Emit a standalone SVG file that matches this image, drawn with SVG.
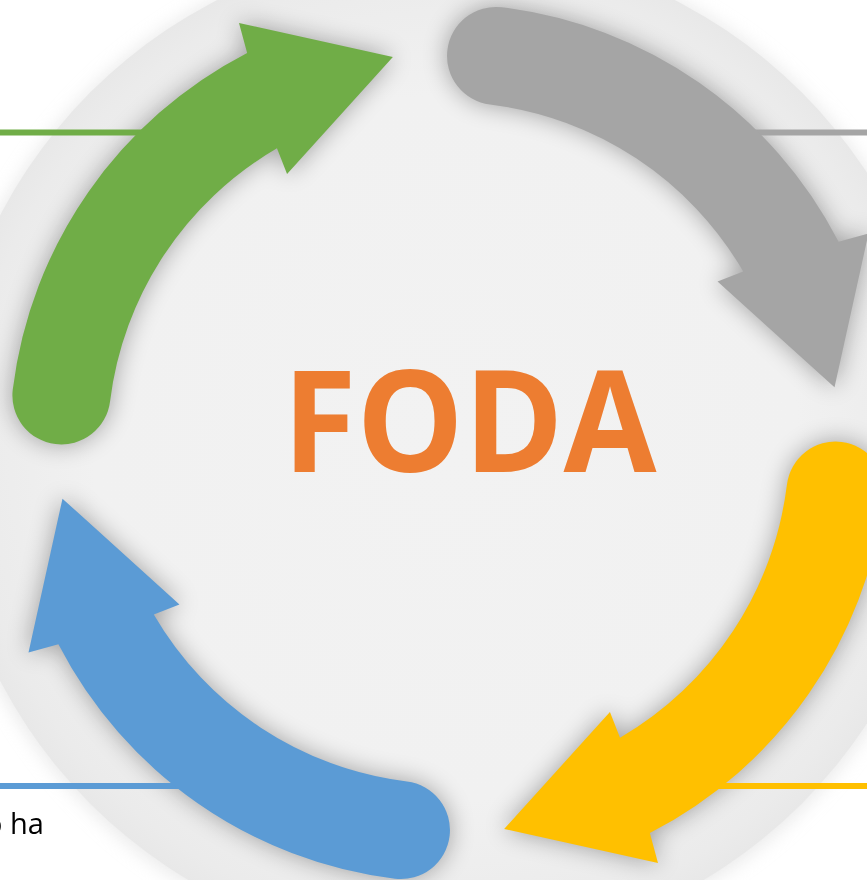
<svg xmlns="http://www.w3.org/2000/svg" xmlns:xlink="http://www.w3.org/1999/xlink" width="867" height="880" viewBox="0 0 867 880">
  <style>
    .line { stroke-width: 6; fill: none; }
    .title { font-family: "Open Sans", "Liberation Sans", sans-serif; font-weight: bold; fill: #ED7D31; }
    .label { font-family: "Open Sans", "Liberation Sans", sans-serif; fill: #000000; }
  </style>
  <defs>
    <radialGradient id="bgGrad" cx="446" cy="448" r="503" gradientUnits="userSpaceOnUse">
      <stop offset="0" stop-color="#f2f2f2"/>
      <stop offset="0.7" stop-color="#f1f1f1"/>
      <stop offset="0.95" stop-color="#ebebeb"/>
      <stop offset="1" stop-color="#e8e8e8"/>
    </radialGradient>
    <filter id="circleShadow" x="-20%" y="-20%" width="140%" height="140%">
      <feGaussianBlur stdDeviation="9"/>
    </filter>
    <filter id="arrowShadow" x="-30%" y="-30%" width="160%" height="160%">
      <feGaussianBlur stdDeviation="12"/>
    </filter>
    <path id="arrowShape" d="M 276.97 148.28 A 341 341 0 0 0 110.04 401.44 A 49 49 0 0 1 12.77 389.50 A 439 439 0 0 1 247.15 52.90 L 239.0 23.0 L 392.87 56.99 L 287.06 173.95 Z"/>
  </defs>

  <rect x="0" y="0" width="867" height="880" fill="#ffffff"/>

  <g id="background">
    <circle cx="446" cy="450" r="506" fill="#d6d6d6" opacity="0.5" filter="url(#circleShadow)"/>
    <circle cx="446" cy="448" r="503" fill="url(#bgGrad)"/>
  </g>

  <g id="shadows" filter="url(#arrowShadow)" fill="#000000" opacity="0.34">
    <use xlink:href="#arrowShape"/>
    <use xlink:href="#arrowShape" transform="rotate(90 448.5 443)"/>
    <use xlink:href="#arrowShape" transform="rotate(180 448.5 443)"/>
    <use xlink:href="#arrowShape" transform="rotate(270 448.5 443)"/>
  </g>

  <g id="lines">
    <line class="line" x1="0" y1="132.5" x2="170" y2="132.5" stroke="#70AD47"/>
    <line class="line" x1="730" y1="132.5" x2="867" y2="132.5" stroke="#A5A5A5"/>
    <line class="line" x1="0" y1="786" x2="200" y2="786" stroke="#5B9BD5"/>
    <line class="line" x1="700" y1="786" x2="867" y2="786" stroke="#FFC000"/>
  </g>

  <g id="arrow-green">
    <use xlink:href="#arrowShape" fill="#70AD47"/>
  </g>
  <g id="arrow-gray">
    <use xlink:href="#arrowShape" fill="#A5A5A5" transform="rotate(90 448.5 443)"/>
  </g>
  <g id="arrow-yellow">
    <use xlink:href="#arrowShape" fill="#FFC000" transform="rotate(180 448.5 443)"/>
  </g>
  <g id="arrow-blue">
    <use xlink:href="#arrowShape" fill="#5B9BD5" transform="rotate(270 448.5 443)"/>
  </g>

  <g id="title">
    <text class="title" x="469.5" y="472" font-size="141" text-anchor="middle" textLength="374" lengthAdjust="spacingAndGlyphs">FODA</text>
  </g>

  <g id="side-text">
    <text class="label" x="-15" y="834" font-size="29">o ha</text>
  </g>
</svg>
